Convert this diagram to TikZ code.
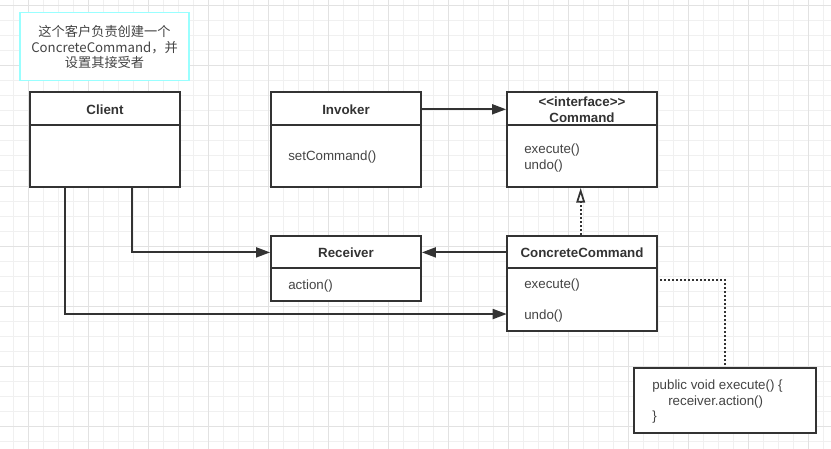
\documentclass[tikz,border=0pt]{standalone}
\usepackage{fontspec}
\setmainfont{Liberation Sans}[Ligatures=TeXOff]
\newfontfamily\cjk{Noto Sans CJK SC}
\usetikzlibrary{arrows.meta,fit,calc}
\definecolor{gridminor}{HTML}{F0F0F0}
\definecolor{gridmajor}{HTML}{E2E2E2}
\definecolor{ink}{HTML}{333333}
\definecolor{txt}{HTML}{444444}
\definecolor{notec}{HTML}{99FFFF}
\tikzset{
  box/.style={draw=ink, line width=1.4pt, fill=white, inner sep=0pt},
  headtxt/.style={font=\fontsize{10}{12}\selectfont\bfseries, text=ink, align=center},
  mtxt/.style={font=\fontsize{10}{12}\selectfont, text=txt, anchor=west, inner sep=0pt},
  link/.style={draw=ink, line width=1.4pt, -{Triangle[length=10.5pt,width=7.5pt]}},
  realize/.style={draw=ink, line width=1.4pt, dash pattern=on 1.5pt off 1.5pt, -{Triangle[open,length=11pt,width=6.5pt,fill=white,line width=1.3pt]}},
  noteline/.style={draw=ink, line width=1.4pt, dash pattern=on 1.5pt off 1.5pt},
}
\begin{document}
\begin{tikzpicture}[x=0.75pt,y=-0.75pt]
\useasboundingbox (0,0) rectangle (831,449);
\fill[white] (0,0) rectangle (831,449);
% grid
\foreach \i in {0,...,54} \draw[gridminor, line width=0.75pt] ({13.33+15*\i},0) -- ({13.33+15*\i},449);
\foreach \i in {0,...,29} \draw[gridminor, line width=0.75pt] (0,{6+15*\i}) -- (831,{6+15*\i});
\foreach \i in {0,...,13} \draw[gridmajor, line width=0.75pt] ({28.33+60*\i},0) -- ({28.33+60*\i},449);
\foreach \i in {0,...,7} \draw[gridmajor, line width=0.75pt] (0,{6+60*\i}) -- (831,{6+60*\i});

% note
\node[fit={(20,12.5) (189,80.5)}, draw=notec, line width=1.1pt, fill=white, inner sep=0pt] (note) {};
\node[font=\cjk\fontsize{9.9}{11.8}\selectfont, text=txt, align=center] at ([yshift=-0.5pt]note.center) {这个客户负责创建一个\\ConcreteCommand，并\\设置其接受者};

% Client
\node[box, fit={(30,92) (180,187)}] (client) {};
\node[box, fit={(30,92) (180,125)}] (clienthead) {};
\node[headtxt] at ([yshift=-0.6pt]clienthead.center) {Client};

% Invoker
\node[box, fit={(271,92) (421,187)}] (invoker) {};
\node[box, fit={(271,92) (421,125)}] (invokerhead) {};
\node[headtxt] at ([yshift=-0.6pt]invokerhead.center) {Invoker};
\node[mtxt] at (288,157.5) {setCommand()};

% Command
\node[box, fit={(507,92) (657,187)}] (command) {};
\node[box, fit={(507,92) (657,125)}] (commandhead) {};
\node[headtxt] at ([yshift=-1.2pt]commandhead.center) {<{}<interface>{}>\\Command};
\node[mtxt] at (524,150) {execute()};
\node[mtxt] at (524,166) {undo()};

% Receiver
\node[box, fit={(271,236) (421,301)}] (receiver) {};
\node[box, fit={(271,236) (421,268)}] (receiverhead) {};
\node[headtxt] at ([yshift=-0.6pt]receiverhead.center) {Receiver};
\node[mtxt] at (288,286.5) {action()};

% ConcreteCommand
\node[box, fit={(507,236) (657,331)}] (cc) {};
\node[box, fit={(507,236) (657,268)}] (cchead) {};
\node[fit={(507,268) (657,331)}, inner sep=0pt] (ccbody) {};
\node[headtxt] at ([yshift=-0.6pt]cchead.center) {ConcreteCommand};
\node[mtxt] at (524,285.5) {execute()};
\node[mtxt] at (524,316.5) {undo()};

% code note
\node[box, fit={(634,368) (816,433)}] (code) {};
\node[mtxt] at (652,386) {public void execute() \{};
\node[mtxt] at (668,402) {receiver.action()};
\node[mtxt] at (652,417) {\}};

% connectors
\draw[link] ([yshift=-0.6pt]invokerhead.east) -- ([yshift=-0.6pt]commandhead.west);
\draw[link] ([yshift=-0.3pt]cchead.west) -- ([yshift=-0.3pt]receiverhead.east);
\draw[link] ([xshift=20.25pt]client.south) |- ([yshift=-0.3pt]receiverhead.west);
\draw[link] ([xshift=-30pt]client.south) |- ([yshift=-10.9pt]ccbody.west);
\draw[realize] ([xshift=-1pt]cc.north) -- ([xshift=-1pt]command.south);
\draw[noteline] ([xshift=2.25pt,yshift=14.6pt]ccbody.east) -| (code.north);
\end{tikzpicture}
\end{document}
